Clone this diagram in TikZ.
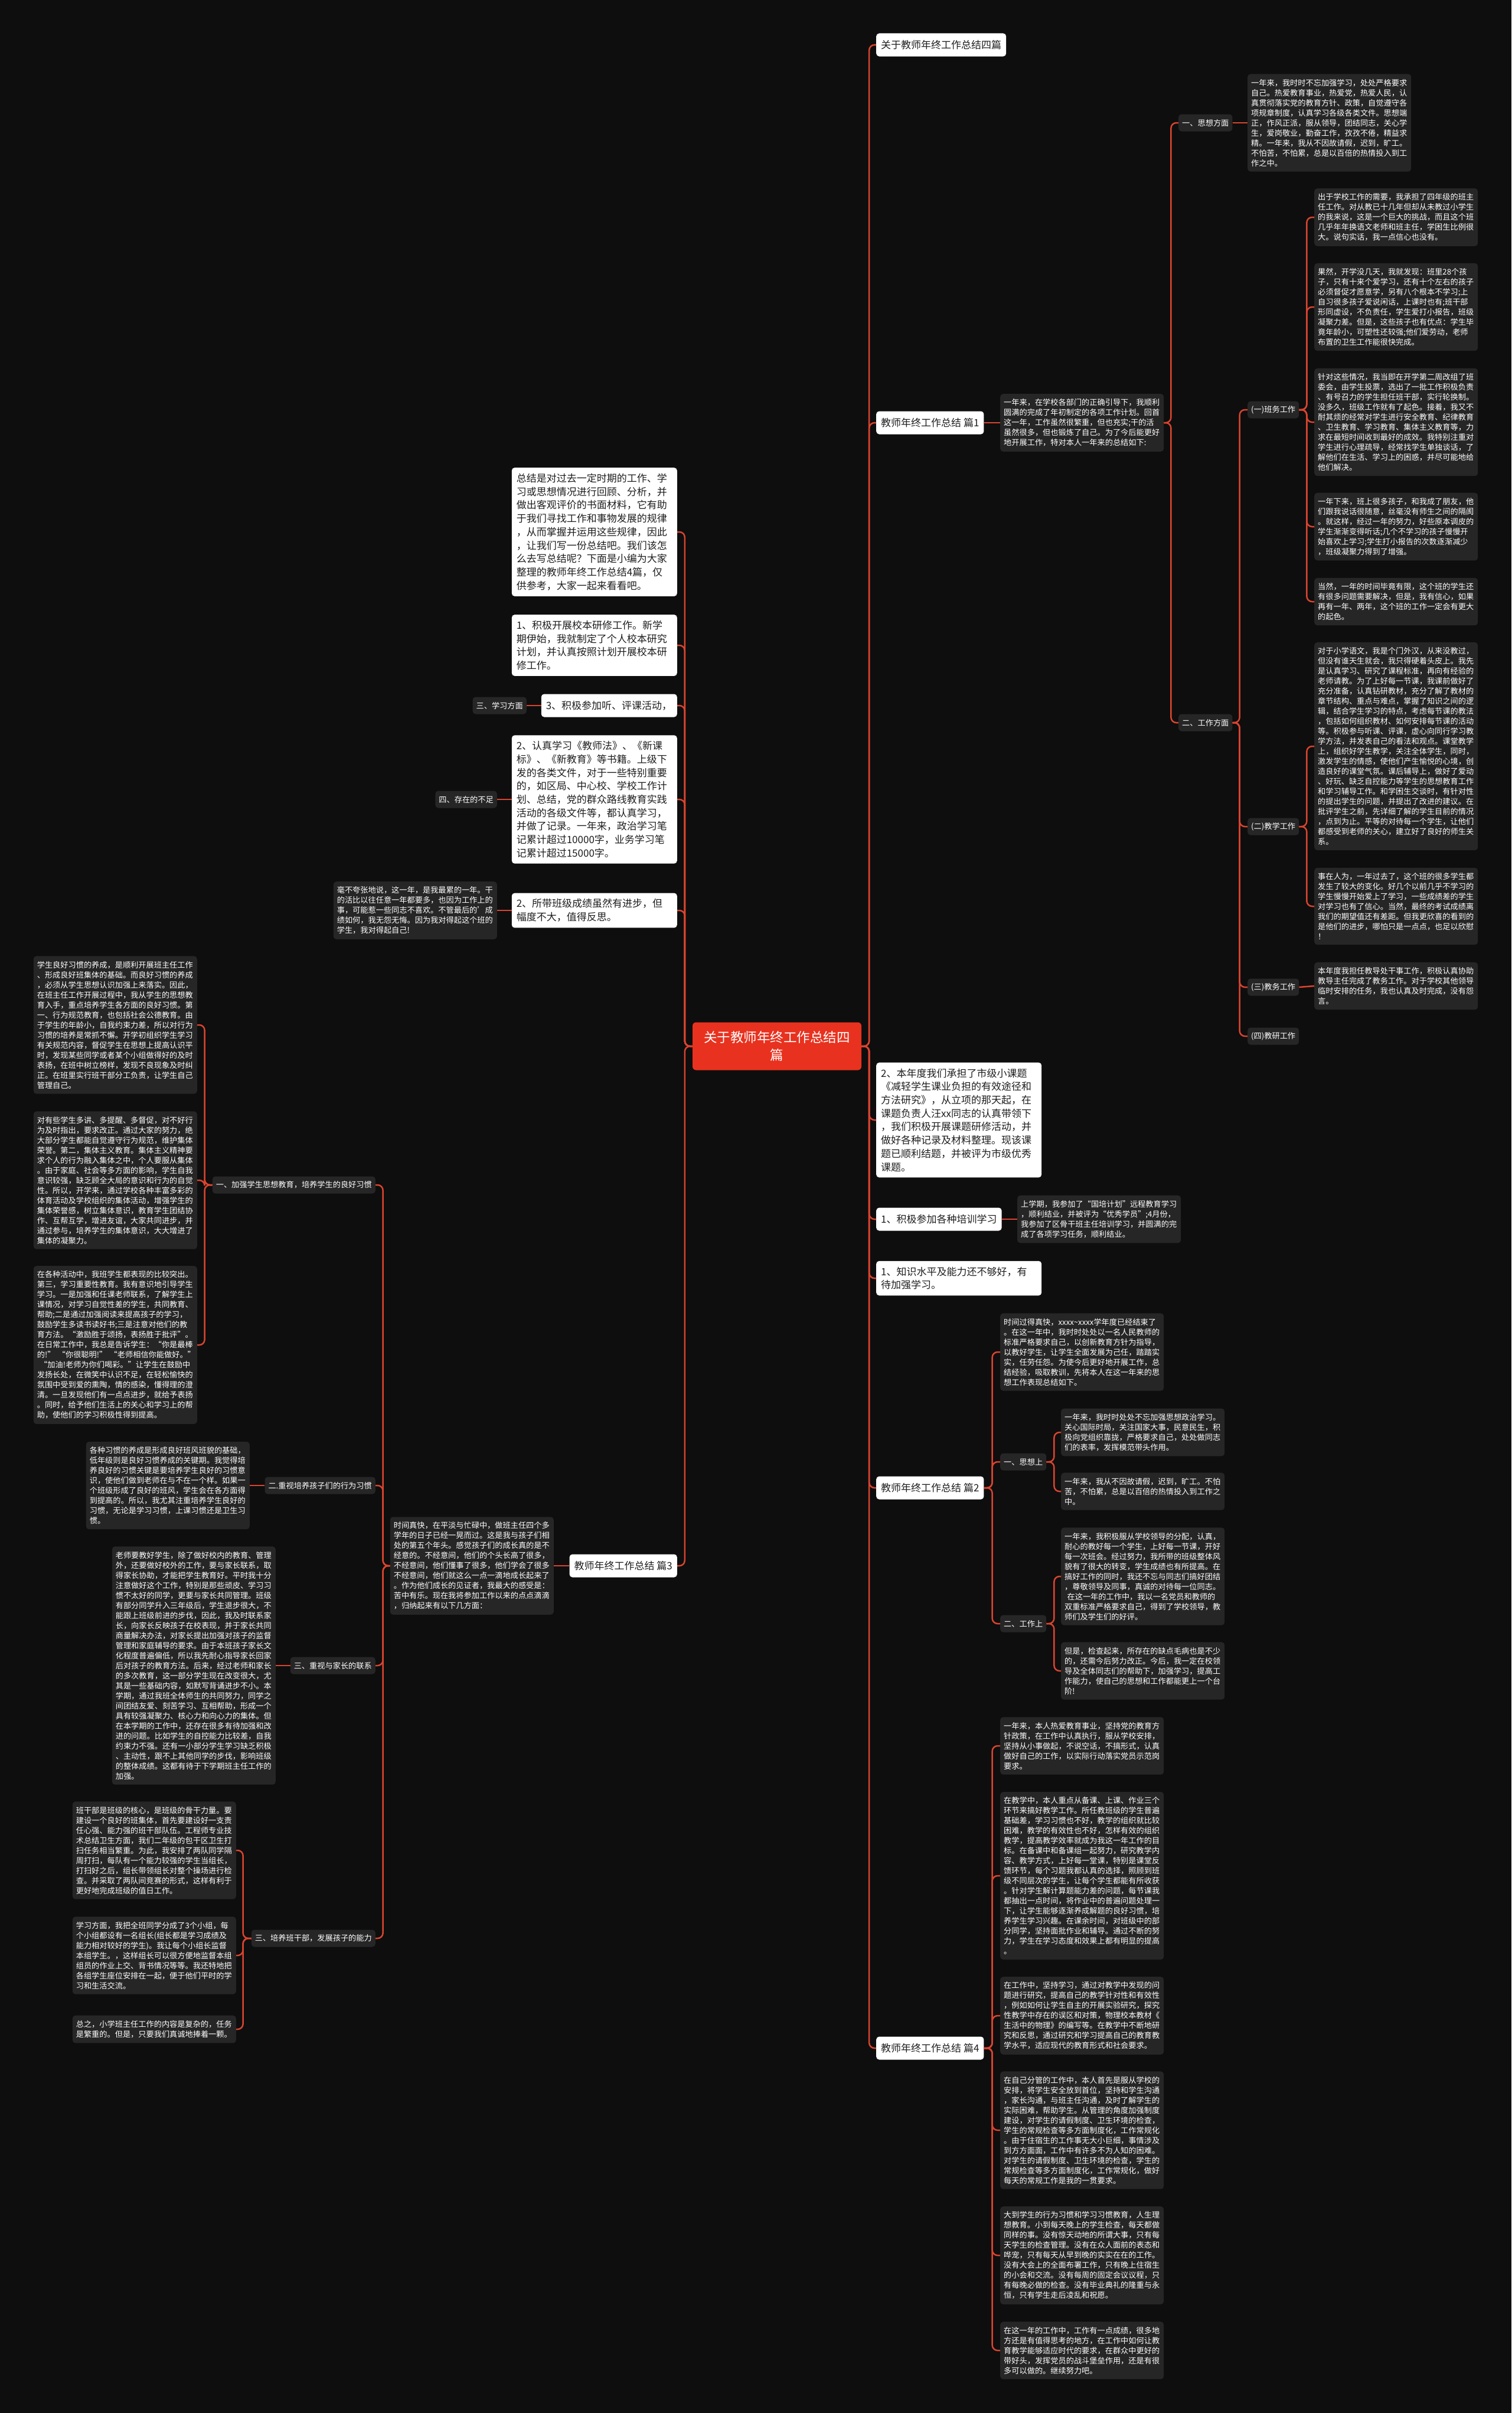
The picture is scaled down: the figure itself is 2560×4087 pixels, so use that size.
\documentclass[tikz,border=0pt]{standalone}
\usepackage{fontspec}
\setmainfont{Noto Sans CJK SC}
\usepackage{xcolor}
\usetikzlibrary{positioning}
\definecolor{MapBg}{HTML}{0E0E0E}
\definecolor{MapRed}{HTML}{E8321F}
\definecolor{MapLine}{HTML}{D9442F}
\definecolor{MapLeaf}{HTML}{262626}
\definecolor{MapInk}{HTML}{1E1E1E}

\begin{document}
\begin{tikzpicture}[
  x=1pt, y=-1pt,
  root/.style={fill=MapRed, text=white, rounded corners=6pt, align=center,
    minimum width=286pt, minimum height=81pt, font=\fontsize{22.5}{30}\selectfont},
  topic/.style={fill=white, text=MapInk, rounded corners=5pt, inner xsep=8pt,
    minimum height=39pt, font=\fontsize{17}{22.7}\selectfont},
  note/.style={topic, text width=264pt, align=left, inner ysep=10pt},
  sub/.style={fill=MapLeaf, text=white, rounded corners=5pt, inner xsep=6pt,
    minimum height=29pt, font=\fontsize{13.2}{17}\selectfont},
  leaf/.style={fill=MapLeaf, text=white, rounded corners=5pt, inner xsep=6pt,
    inner ysep=8.5pt, text width=265pt, align=left, font=\fontsize{13.2}{17}\selectfont},
  link/.style={draw=MapLine, line width=2.5pt, rounded corners=9pt}
]
  \fill[MapBg] (0,0) rectangle (2560,4087);
  \useasboundingbox (0,0) rectangle (2560,4087);

  % Root
  \node[root] (root) at (1316,1772) {关于教师年终工作总结四\\篇};

  % Right branch
  \node[topic, anchor=west] (ttl) at (1484,76) {关于教师年终工作总结四篇};
  \node[topic, anchor=west] (p1) at (1484,716) {教师年终工作总结 篇1};
  \node[leaf, anchor=west] (p1in) at (1694,716) {一年来，在学校各部门的正确引导下，我顺利\\圆满的完成了年初制定的各项工作计划。回首\\这一年，工作虽然很繁重，但也充实;干的活\\虽然很多，但也锻炼了自己。为了今后能更好\\地开展工作，特对本人一年来的总结如下:};

  \node[sub, anchor=west] (sx1) at (1996,208) {一、思想方面};
  \node[leaf, anchor=west] (sx1t) at (2113,208) {一年来，我时时不忘加强学习，处处严格要求\\自己。热爱教育事业，热爱党，热爱人民，认\\真贯彻落实党的教育方针、政策，自觉遵守各\\项规章制度，认真学习各级各类文件。思想端\\正，作风正派，服从领导，团结同志，关心学\\生，爱岗敬业，勤奋工作，孜孜不倦，精益求\\精。一年来，我从不因故请假，迟到，旷工。\\不怕苦，不怕累，总是以百倍的热情投入到工\\作之中。};

  \node[sub, anchor=west] (gz1) at (1996,1224) {二、工作方面};
  \node[sub, anchor=west] (bw) at (2113,694) {(一)班务工作};
  \node[leaf, anchor=west] (bw1) at (2226,368) {出于学校工作的需要，我承担了四年级的班主\\任工作。对从教已十几年但却从未教过小学生\\的我来说，这是一个巨大的挑战，而且这个班\\几乎年年换语文老师和班主任，学困生比例很\\大。说句实话，我一点信心也没有。};
  \node[leaf, anchor=west] (bw2) at (2226,520) {果然，开学没几天，我就发现：班里28个孩\\子，只有十来个爱学习，还有十个左右的孩子\\必须督促才愿意学，另有八个根本不学习;上\\自习很多孩子爱说闲话，上课时也有;班干部\\形同虚设，不负责任，学生爱打小报告，班级\\凝聚力差。但是，这些孩子也有优点：学生毕\\竟年龄小，可塑性还较强;他们爱劳动，老师\\布置的卫生工作能很快完成。};
  \node[leaf, anchor=west] (bw3) at (2226,715) {针对这些情况，我当即在开学第二周改组了班\\委会，由学生投票，选出了一批工作积极负责\\、有号召力的学生担任班干部，实行轮换制。\\没多久，班级工作就有了起色。接着，我又不\\耐其烦的经常对学生进行安全教育、纪律教育\\、卫生教育、学习教育、集体主义教育等，力\\求在最短时间收到最好的成效。我特别注重对\\学生进行心理疏导，经常找学生单独谈话，了\\解他们在生活、学习上的困惑，并尽可能地给\\他们解决。};
  \node[leaf, anchor=west] (bw4) at (2226,892) {一年下来，班上很多孩子，和我成了朋友，他\\们跟我说话很随意，丝毫没有师生之间的隔阂\\。就这样，经过一年的努力，好些原本调皮的\\学生渐渐变得听话;几个不学习的孩子慢慢开\\始喜欢上学习;学生打小报告的次数逐渐减少\\，班级凝聚力得到了增强。};
  \node[leaf, anchor=west] (bw5) at (2226,1019) {当然，一年的时间毕竟有限，这个班的学生还\\有很多问题需要解决，但是，我有信心，如果\\再有一年、两年，这个班的工作一定会有更大\\的起色。};

  \node[sub, anchor=west] (jx) at (2113,1400) {(二)教学工作};
  \node[leaf, anchor=west] (jx1) at (2226,1264) {对于小学语文，我是个门外汉，从来没教过，\\但没有谁天生就会，我只得硬着头皮上。我先\\是认真学习、研究了课程标准，再向有经验的\\老师请教。为了上好每一节课，我课前做好了\\充分准备，认真钻研教材，充分了解了教材的\\章节结构、重点与难点，掌握了知识之间的逻\\辑，结合学生学习的特点，考虑每节课的教法\\，包括如何组织教材、如何安排每节课的活动\\等。积极参与听课、评课，虚心向同行学习教\\学方法，并发表自己的看法和观点。课堂教学\\上，组织好学生教学，关注全体学生，同时，\\激发学生的情感，使他们产生愉悦的心境，创\\造良好的课堂气氛。课后辅导上，做好了爱动\\、好玩、缺乏自控能力等学生的思想教育工作\\和学习辅导工作。和学困生交谈时，有针对性\\的提出学生的问题，并提出了改进的建议。在\\批评学生之前，先详细了解的学生目前的情况\\，点到为止。平等的对待每一个学生，让他们\\都感受到老师的关心，建立好了良好的师生关\\系。};
  \node[leaf, anchor=west] (jx2) at (2226,1535) {事在人为，一年过去了，这个班的很多学生都\\发生了较大的变化。好几个以前几乎不学习的\\学生慢慢开始爱上了学习，一些成绩差的学生\\对学习也有了信心。当然，最终的考试成绩离\\我们的期望值还有差距。但我更欣喜的看到的\\是他们的进步，哪怕只是一点点，也足以欣慰\\！};

  \node[sub, anchor=west] (jw) at (2113,1672) {(三)教务工作};
  \node[leaf, anchor=west] (jw1) at (2226,1670) {本年度我担任教导处干事工作，积极认真协助\\教导主任完成了教务工作。对于学校其他领导\\临时安排的任务，我也认真及时完成，没有怨\\言。};
  \node[sub, anchor=west] (jy) at (2113,1755) {(四)教研工作};

  \node[note, anchor=west] (kt) at (1484,1897) {2、本年度我们承担了市级小课题\\《减轻学生课业负担的有效途径和\\方法研究》，从立项的那天起，在\\课题负责人汪xx同志的认真带领下\\，我们积极开展课题研修活动，并\\做好各种记录及材料整理。现该课\\题已顺利结题，并被评为市级优秀\\课题。};
  \node[topic, anchor=west] (px) at (1484,2065) {1、积极参加各种培训学习};
  \node[leaf, anchor=west] (pxt) at (1723,2065) {上学期，我参加了“国培计划”远程教育学习\\，顺利结业，并被评为“优秀学员”;4月份，\\我参加了区骨干班主任培训学习，并圆满的完\\成了各项学习任务，顺利结业。};
  \node[note, anchor=west] (bz) at (1484,2165) {1、知识水平及能力还不够好，有\\待加强学习。};

  \node[topic, anchor=west] (p2) at (1484,2520) {教师年终工作总结 篇2};
  \node[leaf, anchor=west] (p2in) at (1694,2290) {时间过得真快，xxxx\textasciitilde xxxx学年度已经结束了\\。在这一年中，我时时处处以一名人民教师的\\标准严格要求自己，以创新教育方针为指导，\\以教好学生，让学生全面发展为己任，踏踏实\\实，任劳任怨。为使今后更好地开展工作，总\\结经验，吸取教训，先将本人在这一年来的思\\想工作表现总结如下。};
  \node[sub, anchor=west] (sx2) at (1694,2476) {一、思想上};
  \node[leaf, anchor=west] (sx2a) at (1797,2426) {一年来，我时时处处不忘加强思想政治学习。\\关心国际时局，关注国家大事，民意民生，积\\极向党组织靠拢，严格要求自己，处处做同志\\们的表率，发挥模范带头作用。};
  \node[leaf, anchor=west] (sx2b) at (1797,2526) {一年来，我从不因故请假，迟到，旷工。不怕\\苦，不怕累，总是以百倍的热情投入到工作之\\中。};
  \node[sub, anchor=west] (gz2) at (1694,2750) {二、工作上};
  \node[leaf, anchor=west] (gz2a) at (1797,2670) {一年来，我积极服从学校领导的分配，认真，\\耐心的教好每一个学生，上好每一节课，开好\\每一次班会。经过努力，我所带的班级整体风\\貌有了很大的转变，学生成绩也有所提高。在\\搞好工作的同时，我还不忘与同志们搞好团结\\，尊敬领导及同事，真诚的对待每一位同志。\\~在这一年的工作中，我以一名党员和教师的\\双重标准严格要求自己，得到了学校领导，教\\师们及学生们的好评。};
  \node[leaf, anchor=west] (gz2b) at (1797,2830) {但是，检查起来，所存在的缺点毛病也是不少\\的，还需今后努力改正。今后，我一定在校领\\导及全体同志们的帮助下，加强学习，提高工\\作能力，使自己的思想和工作都能更上一个台\\阶!};

  \node[topic, anchor=west] (p4) at (1484,3469) {教师年终工作总结 篇4};
  \node[leaf, anchor=west] (p4a) at (1694,2957) {一年来，本人热爱教育事业，坚持党的教育方\\针政策，在工作中认真执行，服从学校安排，\\坚持从小事做起，不说空话，不搞形式，认真\\做好自己的工作，以实际行动落实党员示范岗\\要求。};
  \node[leaf, anchor=west] (p4b) at (1694,3177) {在教学中，本人重点从备课、上课、作业三个\\环节来搞好教学工作。所任教班级的学生普遍\\基础差，学习习惯也不好，教学的组织就比较\\困难，教学的有效性也不好，怎样有效的组织\\教学，提高教学效率就成为我这一年工作的目\\标。在备课中和备课组一起努力，研究教学内\\容、教学方式，上好每一堂课，特别是课堂反\\馈环节，每个习题我都认真的选择，照顾到班\\级不同层次的学生，让每个学生都能有所收获\\。针对学生解计算题能力差的问题，每节课我\\都抽出一点时间，将作业中的普遍问题处理一\\下，让学生能够逐渐养成解题的良好习惯，培\\养学生学习兴趣。在课余时间，对班级中的部\\分同学，坚持面批作业和辅导。通过不断的努\\力，学生在学习态度和效果上都有明显的提高\\。};
  \node[leaf, anchor=west] (p4c) at (1694,3414) {在工作中，坚持学习，通过对教学中发现的问\\题进行研究，提高自己的教学针对性和有效性\\，例如如何让学生自主的开展实验研究，探究\\性教学中存在的误区和对策，物理校本教材《\\生活中的物理》的编写等。在教学中不断地研\\究和反思，通过研究和学习提高自己的教育教\\学水平，适应现代的教育形式和社会要求。};
  \node[leaf, anchor=west] (p4d) at (1694,3608) {在自己分管的工作中，本人首先是服从学校的\\安排，将学生安全放到首位，坚持和学生沟通\\，家长沟通，与班主任沟通，及时了解学生的\\实际困难，帮助学生。从管理的角度加强制度\\建设，对学生的请假制度、卫生环境的检查，\\学生的常规检查等多方面制度化，工作常规化\\。由于住宿生的工作事无大小巨细，事情涉及\\到方方面面，工作中有许多不为人知的困难。\\对学生的请假制度、卫生环境的检查，学生的\\常规检查等多方面制度化，工作常规化，做好\\每天的常规工作是我的一贯要求。};
  \node[leaf, anchor=west] (p4e) at (1694,3820) {大到学生的行为习惯和学习习惯教育，人生理\\想教育。小到每天晚上的学生检查，每天都做\\同样的事。没有惊天动地的所谓大事，只有每\\天学生的检查管理。没有在众人面前的表态和\\哗宠，只有每天从早到晚的实实在在的工作。\\没有大会上的全面布署工作，只有晚上住宿生\\的小会和交流。没有每周的固定会议议程，只\\有每晚必做的检查。没有毕业典礼的隆重与永\\恒，只有学生走后凌乱和祝愿。};
  \node[leaf, anchor=west] (p4f) at (1694,3981) {在这一年的工作中，工作有一点成绩，很多地\\方还是有值得思考的地方，在工作中如何让教\\育教学能够适应时代的要求，在群众中更好的\\带好头，发挥党员的战斗堡垒作用，还是有很\\多可以做的。继续努力吧。};

  % Left branch
  \node[note, anchor=east] (zj) at (1147,901) {总结是对过去一定时期的工作、学\\习或思想情况进行回顾、分析，并\\做出客观评价的书面材料，它有助\\于我们寻找工作和事物发展的规律\\，从而掌握并运用这些规律，因此\\，让我们写一份总结吧。我们该怎\\么去写总结呢？下面是小编为大家\\整理的教师年终工作总结4篇，仅\\供参考，大家一起来看看吧。};
  \node[note, anchor=east] (yx) at (1147,1093) {1、积极开展校本研修工作。新学\\期伊始，我就制定了个人校本研究\\计划，并认真按照计划开展校本研\\修工作。};
  \node[topic, anchor=east, minimum width=230pt, text width=214pt, align=left] (tk) at (1147,1195) {3、积极参加听、评课活动，};
  \node[sub, anchor=east] (xx) at (892,1195) {三、学习方面};
  \node[note, anchor=east] (rz) at (1147,1354) {2、认真学习《教师法》、《新课\\标》、《新教育》等书籍。上级下\\发的各类文件，对于一些特别重要\\的，如区局、中心校、学校工作计\\划、总结，党的群众路线教育实践\\活动的各级文件等，都认真学习，\\并做了记录。一年来，政治学习笔\\记累计超过10000字，业务学习笔\\记累计超过15000字。};
  \node[sub, anchor=east] (bzu) at (842,1354) {四、存在的不足};
  \node[note, anchor=east] (cj) at (1147,1542) {2、所带班级成绩虽然有进步，但\\幅度不大，值得反思。};
  \node[leaf, anchor=east] (hb) at (842,1542) {毫不夸张地说，这一年，是我最累的一年。干\\的活比以往任意一年都要多，也因为工作上的\\事，可能惹一些同志不喜欢。不管最后的'成\\绩如何，我无怨无悔。因为我对得起这个班的\\学生，我对得起自己!};

  \node[topic, anchor=east] (p3) at (1147,2652) {教师年终工作总结 篇3};
  \node[leaf, anchor=east] (p3in) at (938,2652) {时间真快，在平淡与忙碌中，做班主任四个多\\学年的日子已经一晃而过。这是我与孩子们相\\处的第五个年头。感觉孩子们的成长真的是不\\经意的。不经意间，他们的个头长高了很多，\\不经意间，他们懂事了很多，他们学会了很多\\不经意间，他们就这么一点一滴地成长起来了\\。作为他们成长的见证者，我最大的感受是：\\苦中有乐。现在我将参加工作以来的点点滴滴\\，归纳起来有以下几方面：};

  \node[sub, anchor=east] (s1) at (636,2007) {一、加强学生思想教育，培养学生的良好习惯};
  \node[leaf, anchor=east] (s1a) at (334,1736) {学生良好习惯的养成，是顺利开展班主任工作\\、形成良好班集体的基础。而良好习惯的养成\\，必须从学生思想认识加强上来落实。因此，\\在班主任工作开展过程中，我从学生的思想教\\育入手，重点培养学生各方面的良好习惯。第\\一、行为规范教育，也包括社会公德教育。由\\于学生的年龄小，自我约束力差，所以对行为\\习惯的培养是常抓不懈。开学初组织学生学习\\有关规范内容，督促学生在思想上提高认识平\\时，发现某些同学或者某个小组做得好的及时\\表扬，在班中树立榜样，发现不良现象及时纠\\正。在班里实行班干部分工负责，让学生自己\\管理自己。};
  \node[leaf, anchor=east] (s1b) at (334,1999) {对有些学生多讲、多提醒、多督促，对不好行\\为及时指出，要求改正。通过大家的努力，绝\\大部分学生都能自觉遵守行为规范，维护集体\\荣誉。第二，集体主义教育。集体主义精神要\\求个人的行为融入集体之中，个人要服从集体\\。由于家庭、社会等多方面的影响，学生自我\\意识较强，缺乏顾全大局的意识和行为的自觉\\性。所以，开学来，通过学校各种丰富多彩的\\体育活动及学校组织的集体活动，增强学生的\\集体荣誉感，树立集体意识，教育学生团结协\\作、互帮互学，增进友谊，大家共同进步，并\\通过参与，培养学生的集体意识，大大增进了\\集体的凝聚力。};
  \node[leaf, anchor=east] (s1c) at (334,2278) {在各种活动中，我班学生都表现的比较突出。\\第三，学习重要性教育。我有意识地引导学生\\学习。一是加强和任课老师联系，了解学生上\\课情况，对学习自觉性差的学生，共同教育、\\帮助;二是通过加强阅读来提高孩子的学习，\\鼓励学生多读书读好书;三是注意对他们的教\\育方法。“激励胜于颂扬，表扬胜于批评”。\\在日常工作中，我总是告诉学生：“你是最棒\\的!”~“你很聪明!”~“老师相信你能做好。”\\~“加油!老师为你们喝彩。”让学生在鼓励中\\发扬长处，在微笑中认识不足，在轻松愉快的\\氛围中受到爱的熏陶，情的感染，懂得理的澄\\清。一旦发现他们有一点点进步，就给予表扬\\。同时，给予他们生活上的关心和学习上的帮\\助，使他们的学习积极性得到提高。};

  \node[sub, anchor=east] (s2) at (636,2516) {二.重视培养孩子们的行为习惯};
  \node[leaf, anchor=east] (s2a) at (423,2516) {各种习惯的养成是形成良好班风班貌的基础，\\低年级则是良好习惯养成的关键期。我觉得培\\养良好的习惯关键是要培养学生良好的习惯意\\识，使他们做到老师在与不在一个样。如果一\\个班级形成了良好的班风，学生会在各方面得\\到提高的。所以，我尤其注重培养学生良好的\\习惯，无论是学习习惯，上课习惯还是卫生习\\惯。};

  \node[sub, anchor=east] (s3) at (636,2821) {三、重视与家长的联系};
  \node[leaf, anchor=east] (s3a) at (467,2821) {老师要教好学生，除了做好校内的教育、管理\\外，还要做好校外的工作，要与家长联系，取\\得家长协助，才能把学生教育好。平时我十分\\注意做好这个工作，特别是那些顽皮、学习习\\惯不太好的同学，更要与家长共同管理。班级\\有部分同学升入三年级后，学生退步很大，不\\能跟上班级前进的步伐，因此，我及时联系家\\长，向家长反映孩子在校表现，并于家长共同\\商量解决办法，对家长提出加强对孩子的监督\\管理和家庭辅导的要求。由于本班孩子家长文\\化程度普遍偏低，所以我先耐心指导家长回家\\后对孩子的教育方法。后来，经过老师和家长\\的多次教育，这一部分学生现在改变很大，尤\\其是一些基础内容，如默写背诵进步不小。本\\学期，通过我班全体师生的共同努力，同学之\\间团结友爱、刻苦学习、互相帮助，形成一个\\具有较强凝聚力、核心力和向心力的集体。但\\在本学期的工作中，还存在很多有待加强和改\\进的问题。比如学生的自控能力比较差，自我\\约束力不强。还有一小部分学生学习缺乏积极\\、主动性，跟不上其他同学的步伐，影响班级\\的整体成绩。这都有待于下学期班主任工作的\\加强。};

  \node[sub, anchor=east] (s4) at (636,3283) {三、培养班干部，发展孩子的能力};
  \node[leaf, anchor=east] (s4a) at (400,3134) {班干部是班级的核心，是班级的骨干力量。要\\建设一个良好的班集体，首先要建设好一支责\\任心强、能力强的班干部队伍。工程师专业技\\术总结卫生方面，我们二年级的包干区卫生打\\扫任务相当繁重。为此，我安排了两队同学隔\\周打扫，每队有一个能力较强的学生当组长，\\打扫好之后，组长带领组长对整个操场进行检\\查。并采取了两队间竞赛的形式，这样有利于\\更好地完成班级的值日工作。};
  \node[leaf, anchor=east] (s4b) at (400,3312) {学习方面，我把全班同学分成了3个小组，每\\个小组都设有一名组长(组长都是学习成绩及\\能力相对较好的学生)。我让每个小组长监督\\本组学生。，这样组长可以很方便地监督本组\\组员的作业上交、背书情况等等。我还特地把\\各组学生座位安排在一起，便于他们平时的学\\习和生活交流。};
  \node[leaf, anchor=east] (s4c) at (400,3437) {总之，小学班主任工作的内容是复杂的，任务\\是繁重的。但是，只要我们真诚地捧着一颗。};

  % Links, right
  \foreach \c in {ttl, p1, kt, px, bz, p2, p4}
    \draw[link] (root.east) -- ++(13,0) |- (\c.west);
  \draw[link] (p1) -- (p1in);
  \foreach \c in {sx1, gz1}
    \draw[link] (p1in.east) -- ++(12,0) |- (\c.west);
  \draw[link] (sx1) -- (sx1t);
  \foreach \c in {bw, jx, jw, jy}
    \draw[link] (gz1.east) -- ++(12,0) |- (\c.west);
  \foreach \c in {bw1, bw2, bw3, bw4, bw5}
    \draw[link] (bw.east) -- ++(13,0) |- (\c.west);
  \foreach \c in {jx1, jx2}
    \draw[link] (jx.east) -- ++(13,0) |- (\c.west);
  \draw[link] (jw.east) -- (jw1.west);
  \draw[link] (px) -- (pxt);
  \foreach \c in {p2in, sx2, gz2}
    \draw[link] (p2.east) -- ++(14,0) |- (\c.west);
  \foreach \c in {sx2a, sx2b}
    \draw[link] (sx2.east) -- ++(13,0) |- (\c.west);
  \foreach \c in {gz2a, gz2b}
    \draw[link] (gz2.east) -- ++(13,0) |- (\c.west);
  \foreach \c in {p4a, p4b, p4c, p4d, p4e, p4f}
    \draw[link] (p4.east) -- ++(14,0) |- (\c.west);

  % Links, left
  \foreach \c in {zj, yx, tk, rz, cj, p3}
    \draw[link] (root.west) -- ++(-13,0) |- (\c.east);
  \draw[link] (tk) -- (xx);
  \draw[link] (rz.west) -- (bzu.east);
  \draw[link] (cj.west) -- (hb.east);
  \draw[link] (p3) -- (p3in);
  \foreach \c in {s1, s2, s3, s4}
    \draw[link] (p3in.west) -- ++(-12,0) |- (\c.east);
  \foreach \c in {s1a, s1b, s1c}
    \draw[link] (s1.west) -- ++(-13,0) |- (\c.east);
  \draw[link] (s2) -- (s2a);
  \draw[link] (s3) -- (s3a);
  \foreach \c in {s4a, s4b, s4c}
    \draw[link] (s4.west) -- ++(-14,0) |- (\c.east);
\end{tikzpicture}
\end{document}
